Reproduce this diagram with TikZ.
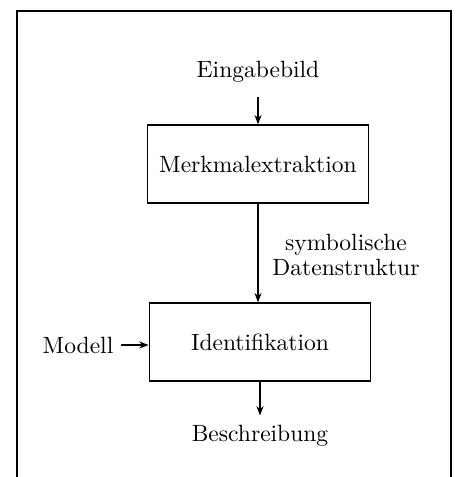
\documentclass[tikz,border=0pt]{standalone}
\usepackage{tikz}
\usetikzlibrary{arrows.meta,positioning}

\begin{document}
\begin{tikzpicture}[
    x=0.425pt, y=-0.425pt,
    stage/.style={rectangle, draw, line width=0.7pt, minimum width=94pt, minimum height=33pt, align=center},
    label/.style={inner sep=1pt, align=center},
    arrow/.style={-{Stealth[length=4pt,width=3pt]}, line width=0.6pt}
]
\useasboundingbox (0,0) rectangle (457,477);

% Frame
\draw[line width=0.6pt] (17,477) -- (17,11) -- (451,11) -- (451,477);

% Stages
\node[stage] (extract) at (258,164) {Merkmalextraktion};
\node[stage] (ident) at (260,342) {Identifikation};

% Inputs and outputs
\node[label] (input) at (258,72) {Eingabebild};
\node[label] (model) at (78,345) {Modell};
\node[label] (output) at (260,436) {Beschreibung};
\node[label] (symbolic) at (346,255) {symbolische\\[-1pt]Datenstruktur};

% Connectors
\draw[arrow, shorten <=5pt] (input.south) -- (extract.north);
\draw[arrow] (extract.south) -- (extract.south |- ident.north);
\draw[arrow, shorten <=2pt] (model.east) -- (model.east -| ident.west);
\draw[arrow, shorten >=3pt] (ident.south) -- (output.north);

\end{tikzpicture}
\end{document}
